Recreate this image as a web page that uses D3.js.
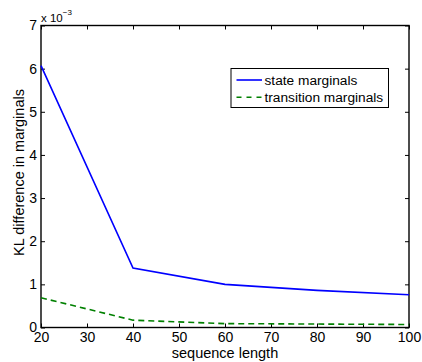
<!DOCTYPE html>
<html>
<head>
<meta charset="utf-8">
<script src="https://cdn.jsdelivr.net/npm/d3@7"></script>
<style>
  body { margin: 0; background: #fff; }
  svg text { font-family: "Liberation Sans", Arial, sans-serif; }
</style>
</head>
<body>
<div id="plot"></div>
<script>
// data (values in units of 1e-3)
var lengths = [20, 40, 60, 80, 100]
var stateMarginals = [6.07, 1.38, 1.0, 0.86, 0.76]
var transitionMarginals = [0.69, 0.17, 0.09, 0.08, 0.07]
var xTicks = [20, 30, 40, 50, 60, 70, 80, 90, 100]
var yTicks = [0, 1, 2, 3, 4, 5, 6, 7]

// svg dimensions
var margin = {top: 25.5, right: 13, bottom: 34.5, left: 41}
var width = 422 - margin.left - margin.right
var height = 362 - margin.top - margin.bottom

var svg = d3.select("#plot").append("svg")
    .attr("width", 422)
    .attr("height", 362)

var g = svg.append("g").attr("transform", "translate(" + margin.left + "," + margin.top + ")")

var x = d3.scaleLinear().domain([20, 100]).range([0, width])
var y = d3.scaleLinear().domain([0, 7]).range([height, 0])

// ticks on all four sides, pointing inward
var tickLen = 4
g.append("g")
    .attr("transform", "translate(0," + height + ")")
    .call(d3.axisBottom(x).tickValues(xTicks).tickSize(-tickLen).tickPadding(5).tickFormat(d3.format("d")))
g.append("g")
    .call(d3.axisTop(x).tickValues(xTicks).tickSize(-tickLen).tickFormat(""))
g.append("g")
    .call(d3.axisLeft(y).tickValues(yTicks).tickSize(-tickLen).tickPadding(4).tickFormat(d3.format("d")))
g.append("g")
    .attr("transform", "translate(" + width + ",0)")
    .call(d3.axisRight(y).tickValues(yTicks).tickSize(-tickLen).tickFormat(""))

g.selectAll(".domain").remove()
g.selectAll(".tick line").attr("stroke", "#000").attr("stroke-width", 1)
g.selectAll(".tick text")
    .attr("fill", "#000")
    .style("font-size", "14px")

// axes box
g.append("rect")
    .attr("width", width)
    .attr("height", height)
    .attr("fill", "none")
    .attr("stroke", "#000")
    .attr("stroke-width", 1.4)

// exponent label
var expo = g.append("text")
    .attr("x", 0)
    .attr("y", -3.5)
    .style("font-size", "11.5px")
    .attr("fill", "#000")
expo.append("tspan").text("x 10")
expo.append("tspan").attr("dy", -7).style("font-size", "8px").text("\u22123")

// axis labels
g.append("text")
    .attr("x", width / 2)
    .attr("y", height + 30)
    .attr("text-anchor", "middle")
    .style("font-size", "14.5px")
    .text("sequence length")

g.append("text")
    .attr("transform", "rotate(-90)")
    .attr("x", -height / 2 + 4)
    .attr("y", -17)
    .attr("text-anchor", "middle")
    .style("font-size", "14.5px")
    .text("KL difference in marginals")

// lines
var line = function (vals) {
    return d3.line()
        .x(function (d, i) { return x(lengths[i]) })
        .y(function (d) { return y(d) })(vals)
}

g.append("path")
    .attr("d", line(stateMarginals))
    .attr("fill", "none")
    .attr("stroke", "#0000ff")
    .attr("stroke-width", 1.6)

g.append("path")
    .attr("d", line(transitionMarginals))
    .attr("fill", "none")
    .attr("stroke", "#008000")
    .attr("stroke-width", 1.6)
    .attr("stroke-dasharray", "6,4")

// legend
var legend = g.append("g").attr("transform", "translate(" + (231 - margin.left) + "," + (68.5 - margin.top) + ")")
legend.append("rect")
    .attr("width", 157.5)
    .attr("height", 39)
    .attr("fill", "#fff")
    .attr("stroke", "#000")
    .attr("stroke-width", 1)

var entries = [
    {name: "state marginals", color: "#0000ff", dash: null},
    {name: "transition marginals", color: "#008000", dash: "5,5"}
]
entries.forEach(function (e, i) {
    var yy = 11.5 + i * 17.3
    legend.append("line")
        .attr("x1", 5.5).attr("x2", 31)
        .attr("y1", yy).attr("y2", yy)
        .attr("stroke", e.color)
        .attr("stroke-width", 1.6)
        .attr("stroke-dasharray", e.dash)
    legend.append("text")
        .attr("x", 33.5)
        .attr("y", yy + 5)
        .style("font-size", "13.7px")
        .text(e.name)
})
</script>
</body>
</html>
